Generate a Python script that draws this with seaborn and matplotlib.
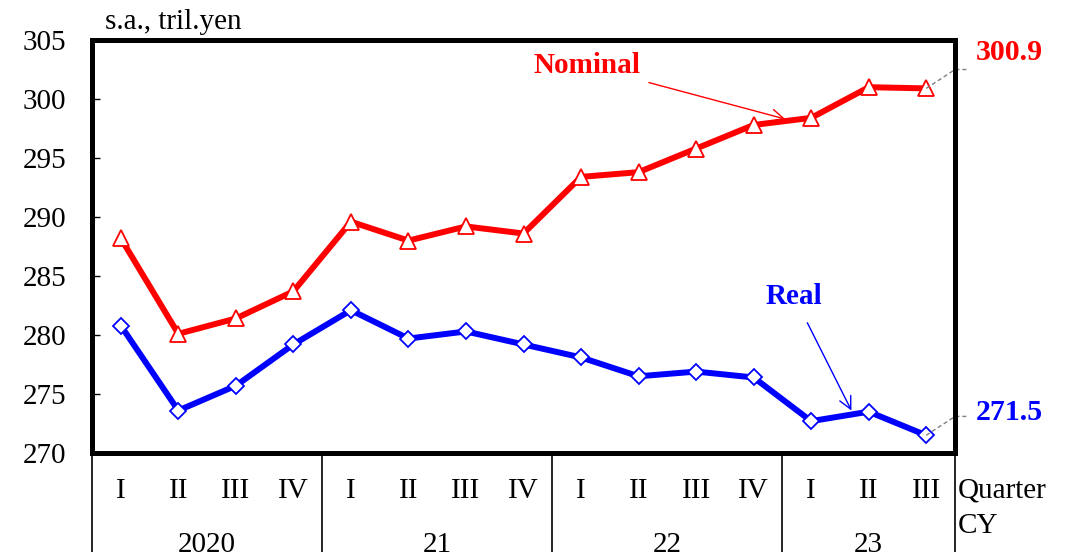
import numpy as np
import pandas as pd
import matplotlib
matplotlib.use("Agg")
import matplotlib.pyplot as plt
import matplotlib.transforms as mtransforms
import seaborn as sns

# Quarterly GDP, seasonally adjusted, trillion yen
quarters = ["I", "II", "III", "IV", "I", "II", "III", "IV",
            "I", "II", "III", "IV", "I", "II", "III"]
years = ["2020", "21", "22", "23"]
nominal = [288.2, 280.1, 281.4, 283.7, 289.6, 288.0, 289.2, 288.6,
           293.4, 293.8, 295.8, 297.8, 298.4, 301.0, 300.9]
real = [280.8, 273.6, 275.7, 279.2, 282.1, 279.7, 280.3, 279.2,
        278.1, 276.5, 276.9, 276.4, 272.7, 273.5, 271.5]
yticks = [270, 275, 280, 285, 290, 295, 300, 305]

sns.set_theme(style="white")
plt.rcParams["font.family"] = ["Liberation Serif", "DejaVu Serif"]
plt.rcParams["text.color"] = "black"
plt.rcParams["ytick.color"] = "black"
plt.rcParams["ytick.labelcolor"] = "black"

df = pd.DataFrame({"t": np.arange(len(quarters)), "Nominal": nominal, "Real": real})

W, H = 1069, 552
fig = plt.figure(figsize=(W / 100, H / 100), dpi=100)
ax = fig.add_axes([92 / W, 1 - 453 / H, (955 - 92) / W, (453 - 40) / H])

RED, BLUE = "#ff0000", "#0000ff"
FS = 21
sns.lineplot(data=df, x="t", y="Nominal", ax=ax, color=RED, linewidth=4.3,
             marker="^", markersize=12, markerfacecolor="white",
             markeredgecolor=RED, markeredgewidth=1.3)
sns.lineplot(data=df, x="t", y="Real", ax=ax, color=BLUE, linewidth=4.3,
             marker="D", markersize=8.5, markerfacecolor="white",
             markeredgecolor=BLUE, markeredgewidth=1.3)

ax.set_xlim(-0.5, len(quarters) - 0.5)
ax.set_ylim(270, 305)
ax.set_yticks(yticks)
ax.set_yticklabels([str(v) for v in yticks], fontsize=FS, color="black")
ax.tick_params(axis="y", direction="in", length=6, width=1, left=True, pad=18.5, colors="black")
ax.set_xticks([])
ax.set_xlabel("")
ax.set_ylabel("")
for s in ax.spines.values():
    s.set_visible(True)
    s.set_color("black")
    s.set_linewidth(3.6)

ax.text(0.015, 1.012, "s.a., tril.yen", transform=ax.transAxes, fontsize=FS,
        ha="left", va="bottom", color="black")

# Category axis below the frame
trans = mtransforms.blended_transform_factory(ax.transData, ax.transAxes)
for i, q in enumerate(quarters):
    ax.text(i, -0.091, q, transform=trans, ha="center", va="center",
            fontsize=FS, color="black")
n_per_year = [4, 4, 4, 3]
start = 0
bounds = [-0.5]
for y, n in zip(years, n_per_year):
    ax.text(start + (n - 1) / 2, -0.222, y, transform=trans, ha="center",
            va="center", fontsize=FS, color="black")
    start += n
    bounds.append(start - 0.5)
for b in bounds:
    ax.plot([b, b], [0, -0.25], transform=trans, color="black", lw=1.2,
            clip_on=False, solid_capstyle="butt")
ax.text(1.003, -0.09, "Quarter", transform=ax.transAxes, ha="left", va="center",
        fontsize=FS, color="black")
ax.text(1.003, -0.177, "CY", transform=ax.transAxes, ha="left", va="center",
        fontsize=FS, color="black")

# Series labels with arrows
ax.annotate("Nominal", xy=(11.55, 298.3), xytext=(8.1, 302.8),
            color=RED, fontsize=FS, fontweight="bold", ha="center", va="center",
            arrowprops=dict(arrowstyle="->", color=RED, lw=1.0,
                            mutation_scale=22, shrinkA=4, shrinkB=0))
ax.annotate("Real", xy=(12.7, 273.6), xytext=(11.7, 283.3),
            color=BLUE, fontsize=FS, fontweight="bold", ha="center", va="center",
            arrowprops=dict(arrowstyle="->", color=BLUE, lw=1.0,
                            mutation_scale=22, shrinkA=8, shrinkB=0))

# Latest values with dashed leaders
for vals, col, text_y in [(nominal, RED, 303.9), (real, BLUE, 273.4)]:
    last = vals[-1]
    xl = len(vals) - 1
    ax.plot([xl, 14.5, 14.72], [last, last + 1.6, last + 1.6], color="gray",
            lw=1.0, ls=(0, (3, 2)), clip_on=False)
    ax.text(14.86, text_y, f"{last:.1f}", color=col, fontsize=FS + 0.5,
            fontweight="bold", ha="left", va="center")

fig.savefig("out.png", dpi=100, facecolor="white")
